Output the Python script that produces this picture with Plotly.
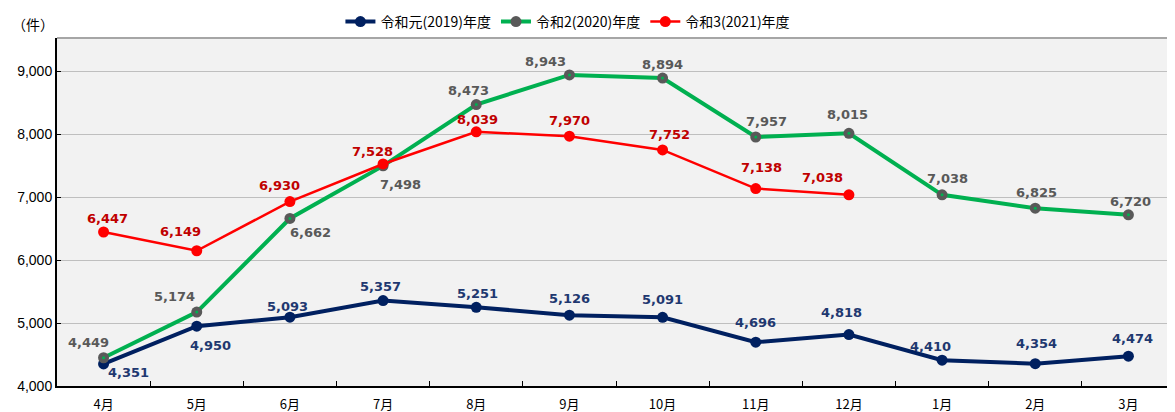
import plotly.graph_objects as go

months = ["4月", "5月", "6月", "7月", "8月", "9月", "10月", "11月", "12月", "1月", "2月", "3月"]
s2019 = [4351, 4950, 5093, 5357, 5251, 5126, 5091, 4696, 4818, 4410, 4354, 4474]
s2020 = [4449, 5174, 6662, 7498, 8473, 8943, 8894, 7957, 8015, 7038, 6825, 6720]
s2021 = [6447, 6149, 6930, 7528, 8039, 7970, 7752, 7138, 7038]
names = ["令和元(2019)年度", "令和2(2020)年度", "令和3(2021)年度"]
y_ticks = [4000, 5000, 6000, 7000, 8000, 9000]

# label offsets in pixels (dx right, dy up) for each data label
off2019 = [(25, -9), (14, -19), (-2, 11), (-3, 14), (1, 14), (0, 17),
           (0, 18), (0, 20), (-7, 22), (-12, 14), (1, 20), (4, 18)]
off2020 = [(-15, 15), (-22, 16), (21, -14), (17, -19), (-8, 14), (-24, 13),
           (0, 14), (11, 15), (-1, 19), (5, 16), (1, 16), (2, 13)]
off2021 = [(4, 14), (-16, 19), (-10, 16), (-11, 12), (1, 12), (0, 16),
           (7, 15), (6, 21), (-26, 17)]

lblfont = "DejaVu Sans"
series = [
    (names[0], s2019, off2019, "#002060", 4, "#002060", "#1F3870"),
    (names[1], s2020, off2020, "#00B050", 4, "#595959", "#595959"),
    (names[2], s2021, off2021, "#FF0000", 2.5, "#FF0000", "#C00000"),
]

fig = go.Figure()
annotations = []
for name, vals, offs, lc, lw, mc, tc in series:
    xs = months[:len(vals)]
    fig.add_trace(go.Scatter(
        x=xs, y=vals, name=name, mode="lines+markers",
        line=dict(color=lc, width=lw), marker=dict(color=mc, size=11),
        cliponaxis=False))
    if name == names[1]:
        fig.add_trace(go.Scatter(
            x=xs, y=vals, mode="markers", showlegend=False, hoverinfo="skip",
            marker=dict(color="#00B050", size=3), cliponaxis=False))
    for xv, yv, (dx, dy) in zip(xs, vals, offs):
        annotations.append(dict(
            x=xv, y=yv, xref="x", yref="y", text=f"{yv:,}", showarrow=False,
            xanchor="center", yanchor="middle", xshift=dx, yshift=dy,
            font=dict(family=lblfont, size=13, color=tc, weight="bold")))

annotations.append(dict(text="（件）", xref="paper", yref="paper", x=-0.042, y=1.0,
                        xanchor="left", yanchor="bottom", yshift=2, showarrow=False,
                        font=dict(size=14, family="Noto Sans CJK JP")))

# page body has an 8px default margin, so the figure is 8px smaller on each axis
fig.update_layout(
    width=1167, height=404,
    margin=dict(l=49, r=0, t=30, b=26, autoexpand=False),
    paper_bgcolor="white", plot_bgcolor="#F2F2F2",
    font=dict(family="Noto Sans CJK JP, Liberation Sans", size=13, color="black"),
    legend=dict(orientation="h", x=0.457, xanchor="center", y=1.0, yanchor="bottom",
                font=dict(size=14, family="Noto Sans CJK JP"),
                bgcolor="rgba(0,0,0,0)", tracegroupgap=0),
    showlegend=True,
    annotations=annotations,
)
fig.update_xaxes(
    type="category", range=[-0.5, 11.5], showline=True, linecolor="black", linewidth=2,
    ticks="inside", tickson="boundaries", ticklen=5, tickcolor="black",
    showgrid=False, mirror=False, ticklabelstandoff=5,
    tickfont=dict(family="Noto Sans CJK JP", size=13))
fig.update_yaxes(
    range=[4000, 9530], tickvals=y_ticks, tickformat=",", showline=True, linecolor="black",
    linewidth=2, ticks="inside", ticklen=4, tickcolor="black",
    showgrid=True, gridcolor="#BFBFBF", gridwidth=1, zeroline=False,
    tickfont=dict(family="Liberation Sans", size=14))
fig.add_shape(type="line", xref="paper", yref="paper", x0=0, x1=1, y0=1, y1=1,
              line=dict(color="#A6A6A6", width=2))
fig.write_html("out.html")
